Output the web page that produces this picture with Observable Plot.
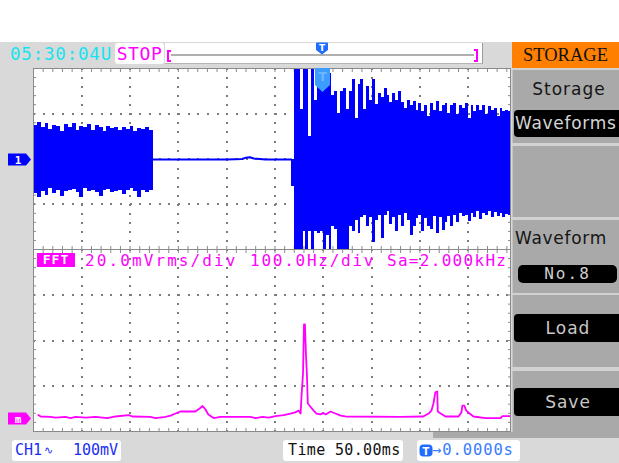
<!DOCTYPE html>
<html><head><meta charset="utf-8">
<script src="https://cdn.jsdelivr.net/npm/d3@7"></script>
<script src="https://cdn.jsdelivr.net/npm/@observablehq/plot@0.6"></script>
<style>
body{margin:0;background:#fff;}
#scr{position:relative;width:619px;height:463px;background:#d9d9d9;overflow:hidden;font-family:"DejaVu Sans Mono",monospace;}
#scr div,#scr span,#scr svg.ov{position:absolute;}
#scr #plots{left:0;top:0;width:619px;height:463px;}
#plots svg{position:absolute;left:0;max-width:none;}
.mono{font-family:"DejaVu Sans Mono",monospace;white-space:nowrap;}
.sans{font-family:"DejaVu Sans",sans-serif;white-space:nowrap;}
.btn{left:512px;width:107px;background:#a9a9a9;border-left:1px solid #c4c4c4;box-sizing:border-box;}
.blk{background:#000;border-radius:4px;}
</style></head>
<body>
<div id="scr">
  <div style="left:0;top:0;width:619px;height:42px;background:#fff;"></div>
  <div id="plots"></div>
  <div class="mono" style="left:10px;top:43px;font-size:17.5px;line-height:22px;letter-spacing:0.8px;color:#17e3f0;">05:30:04U</div>
  <div class="mono" style="left:115px;top:43px;width:49px;height:21px;background:#fff;border-radius:3px;color:#ff00ff;font-size:18px;line-height:21px;letter-spacing:0.6px;text-align:center;">STOP</div>
  <div style="left:165px;top:43px;width:317px;height:20px;background:#fff;border-right:1px solid #9c9c9c;border-bottom:1px solid #b4b4b4;"></div>
  <div style="left:167px;top:50px;width:2px;height:8px;border:2px solid #ff00ff;border-right:none;"></div>
  <div style="left:171px;top:54px;width:303px;height:2px;background:#b0b0b0;"></div>
  <div style="left:474px;top:49px;width:2px;height:9px;border:2px solid #ff00ff;border-left:none;"></div>
  <svg class="ov" style="left:316px;top:42px;" width="12" height="13"><path d="M1,0.5 h10 a1,1 0 0 1 1,1 v6.5 l-6,4.5 l-6,-4.5 v-6.5 a1,1 0 0 1 1,-1 z" fill="#1f6cff"/><text x="6" y="8.5" font-size="9" font-weight="bold" fill="#fff" text-anchor="middle" font-family="DejaVu Sans">T</text></svg>
  <div style="left:512px;top:42px;width:107px;height:26px;background:#ff8000;"></div>
  <div style="left:512px;top:42px;width:107px;height:26px;line-height:27px;text-align:center;font-family:'Liberation Serif',serif;font-size:18.5px;color:#111;">STORAGE</div>
  <div style="left:512px;top:68px;width:107px;height:370px;background:#d2d2d2;"></div>
  <div class="btn" style="top:70px;height:73px;"></div>
  <div class="btn" style="top:146px;height:71px;"></div>
  <div class="btn" style="top:220px;height:73px;"></div>
  <div class="btn" style="top:295px;height:72px;"></div>
  <div class="btn" style="top:371px;height:67px;"></div>
  <div style="left:433px;top:432px;width:186px;height:6px;background:#a9a9a9;"></div>
  <div class="sans" style="left:512px;top:78px;width:114px;text-align:center;font-size:17px;line-height:22px;letter-spacing:1px;color:#151515;">Storage</div>
  <div class="blk" style="left:514px;top:110px;width:112px;height:27px;"></div>
  <div class="sans" style="left:515px;top:110px;font-size:17px;line-height:27px;letter-spacing:0.7px;color:#d6d6d6;">Waveforms</div>
  <div class="sans" style="left:515px;top:227px;font-size:17px;line-height:22px;letter-spacing:0.7px;color:#151515;">Waveform</div>
  <div class="blk" style="left:518px;top:265px;width:99px;height:18px;border-radius:5px;"></div>
  <div class="mono" style="left:518px;top:265px;width:99px;text-align:center;font-size:16px;line-height:18px;letter-spacing:2px;color:#cfcfcf;">No.8</div>
  <div class="blk" style="left:514px;top:314px;width:112px;height:28px;"></div>
  <div class="sans" style="left:514px;top:314px;width:108px;text-align:center;font-size:17px;line-height:28px;letter-spacing:1px;color:#c8c8c8;">Load</div>
  <div class="blk" style="left:514px;top:388px;width:112px;height:28px;"></div>
  <div class="sans" style="left:514px;top:388px;width:108px;text-align:center;font-size:17px;line-height:28px;letter-spacing:1px;color:#c8c8c8;">Save</div>
  <svg class="ov" style="left:8px;top:153px;" width="24" height="13"><path d="M0,0.5 h18 l5,6 l-5,6 h-18 z" fill="#0000ff"/><text x="10" y="10.5" font-size="11" font-weight="bold" fill="#fff" text-anchor="middle" font-family="DejaVu Sans Mono">1</text></svg>
  <svg class="ov" style="left:8px;top:412px;" width="24" height="13"><path d="M0,0.5 h18 l5,6 l-5,6 h-18 z" fill="#ff00ff"/><text x="10" y="10.5" font-size="11" font-weight="bold" fill="#fff" text-anchor="middle" font-family="DejaVu Sans Mono">m</text></svg>
  <svg class="ov" style="left:315px;top:68px;" width="15" height="24"><path d="M0,0 h15 v17 l-7.5,7 l-7.5,-7 z" fill="#3d9cff"/><text x="7.5" y="13" font-size="12" font-weight="bold" fill="#6fb8ff" text-anchor="middle" font-family="DejaVu Sans">T</text></svg>
  <div class="mono" style="left:37px;top:253px;width:38px;height:14px;background:#ff00ff;color:#fff;font-size:13px;line-height:14px;font-weight:bold;text-align:center;letter-spacing:1px;">FFT</div>
  <div class="mono" style="left:85px;top:252px;font-size:16px;line-height:17px;letter-spacing:2.1px;color:#ff00ff;">20.0mVrms/div</div>
  <div class="mono" style="left:250px;top:252px;font-size:16px;line-height:17px;letter-spacing:1.75px;color:#ff00ff;">100.0Hz/div</div>
  <div class="mono" style="left:387px;top:252px;font-size:16px;line-height:17px;letter-spacing:1.3px;color:#ff00ff;">Sa=2.000kHz</div>
  <div style="left:12px;top:440px;width:109px;height:21px;background:#fff;border-radius:3px;"></div>
  <div class="mono" style="left:15px;top:441px;font-size:15px;line-height:19px;color:#1c2ef0;">CH1</div>
  <div class="mono" style="left:44px;top:441px;font-size:11px;line-height:19px;color:#1c2ef0;">∿</div>
  <div class="mono" style="left:73px;top:441px;font-size:15px;line-height:19px;color:#1c2ef0;">100mV</div>
  <div style="left:283px;top:440px;width:120px;height:21px;background:#fff;border-radius:3px;"></div>
  <div class="mono" style="left:288px;top:441px;font-size:15px;line-height:19px;letter-spacing:0.35px;color:#111;">Time 50.00ms</div>
  <div style="left:417px;top:440px;width:103px;height:21px;background:#fff;border-radius:3px;"></div>
  <svg class="ov" style="left:419px;top:444px;" width="15" height="13"><rect x="0.5" y="0.5" width="13" height="12" rx="4" fill="#1f6cff"/><text x="7" y="10.5" font-size="10" font-weight="bold" fill="#fff" text-anchor="middle" font-family="DejaVu Sans">T</text></svg>
  <div class="mono" style="left:432px;top:441px;font-size:15.5px;line-height:19px;letter-spacing:0.9px;color:#3a7cff;">→0.0000s</div>
</div>
<script>
// ---- CH1 time trace (time in ms relative to trigger, level in mV) ----
const burstTime = [-300,-296,-292,-288,-284,-280,-276,-272,-268,-264,-260,-256,-252,-248,-244,-240,-236,-232,-228,-224,-220,-216,-212,-208,-204,-200,-196,-192,-188,-184,-180,-176];
const burstHigh = [74,80,70,78,66,74,72,60,76,70,79,64,72,70,76,62,73,70,60,72,68,70,62,70,66,72,60,68,66,70,64,64];
const burstLow  = [-76,-86,-72,-80,-66,-76,-70,-82,-72,-70,-68,-74,-84,-66,-72,-70,-74,-82,-70,-68,-74,-72,-70,-78,-70,-66,-72,-84,-70,-74,-70,-70];

const quietTime  = [-176,-140,-100,-84,-80,-76,-72,-60,-33];
const quietLevel = [-1,-1,-1,0,3,4,1,-1,-1];

const ringTime = [-32.5,
  -30,-27,-24,-21,-18,-15,-12,-9,-6,-3,
  0,3,6,9,12,15,18,21,24,27,
  30,33,36,39,42,45,48,51,54,57,
  60,63,66,69,72,75,78,81,84,87,
  90,93,96,99,102,105,108,111,114,117,
  120,123,126,129,132,135,138,141,144,147,
  150,153,156,159,162,165,168,171,174,177,
  180,183,186,189,192,194];
const ringHigh = [-1,
  200,200,110,200,200,50,200,130,200,170,
  200,185,190,140,150,100,150,155,110,150,
  175,90,165,175,110,160,130,175,120,145,
  135,155,140,125,145,130,150,125,112,130,
  118,128,108,122,104,118,95,122,108,126,
  104,118,122,100,118,122,98,118,112,122,
  90,118,104,118,108,118,98,116,108,112,
  94,112,104,108,104,104];
const ringLow = [-60,
  -200,-200,-200,-160,-200,-160,-200,-160,-165,-160,
  -200,-170,-200,-150,-155,-200,-200,-200,-200,-150,
  -160,-135,-165,-130,-125,-150,-130,-185,-135,-125,
  -175,-125,-115,-145,-130,-160,-125,-150,-120,-135,
  -170,-150,-132,-125,-160,-132,-150,-155,-128,-165,
  -130,-158,-140,-128,-150,-124,-140,-120,-128,-124,
  -138,-120,-130,-116,-134,-120,-124,-116,-130,-118,
  -126,-120,-130,-122,-124,-124];

// ---- FFT trace (frequency in Hz, level in mVrms) ----
const fftFreq = [10,15,35,46,66,77,87,108,128,153,170,197,205,242,253,273,284,294,304,335,344,350,356,362,373,387,449,460,474,487,501,518,532,542,549,553,555,558,560,562,564,566,568,573,580,586,594,600,605,615,625,636,646,760,807,818,824,828,832,836,837,843,853,880,886,888,892,896,903,911,936,967,971,988];
const fftLevel = [1.9,1.2,1.0,0.7,1.0,0.5,1.0,0.7,1.0,0.5,1.2,1.8,1.2,1.0,0.5,1.0,1.6,2.5,3.4,3.4,4.7,5.8,4.3,2.1,0.5,1.0,1.0,0.5,1.0,0.7,1.4,1.8,2.5,3.0,3.8,2.5,10.4,20,41.7,41.7,29,20,6.9,5.6,3.8,2.5,2.1,2.7,2.1,3.4,2.5,1.6,1.2,1.0,1.2,2.5,3.8,6.9,11.8,12.2,3.4,2.5,1.2,1.2,3.0,6.0,6.0,3.8,2.5,1.2,0.5,0.5,1.4,1.4];

// ---- graticule ----
const timeGrid  = [-250,-200,-150,-100,-50,0,50,100,150];
const voltGrid  = [-100,0,100];
const freqGrid  = [100,200,300,400,500,600,700,800,900];
const levelGrid = [14.6,34.6,54.6];
const timeMinor  = d3.range(-300, 194, 10);
const voltMinor  = d3.range(-200, 201, 20);
const freqMinor  = d3.range(0, 988, 20);
const levelMinor = d3.range(-5.4, 74.7, 4);

const GRID = "#7c7c7c", EDGE = "#8a8a8a";
function graticule(xg, yg, xm, ym) {
  return [
    Plot.frame({fill: "white", stroke: "none"}),
    Plot.ruleX(xg, {x: d => d, stroke: GRID, strokeWidth: 2, strokeDasharray: "2,7.07", shapeRendering: "crispEdges"}),
    Plot.ruleY(yg, {y: d => d, stroke: GRID, strokeWidth: 2, strokeDasharray: "2,7.66", shapeRendering: "crispEdges"}),
    Plot.axisX(xm, {anchor: "top", tickSize: 3, dy: 3, fill: "none", label: null, stroke: EDGE}),
    Plot.axisX(xm, {anchor: "bottom", tickSize: 3, dy: -3, fill: "none", label: null, stroke: EDGE}),
    Plot.axisY(ym, {anchor: "left", tickSize: 3, dx: 3, fill: "none", label: null, stroke: EDGE}),
    Plot.axisY(ym, {anchor: "right", tickSize: 3, dx: -3, fill: "none", label: null, stroke: EDGE})
  ];
}

const host = document.getElementById("plots");
try {
  const upper = Plot.plot({
    width: 619, height: 197, marginTop: 8, marginBottom: 8, marginLeft: 33, marginRight: 109,
    x: {domain: [-300, 193.8]},
    y: {domain: [-200, 200]},
    style: {background: "transparent", overflow: "visible"},
    marks: [
      ...graticule(timeGrid, voltGrid, timeMinor, voltMinor),
      Plot.areaY(burstTime, {x: burstTime, y1: burstLow, y2: burstHigh, curve: "step-after", fill: "#0000ff", clip: true, shapeRendering: "crispEdges"}),
      Plot.line(quietTime, {x: quietTime, y: quietLevel, stroke: "#0000ff", strokeWidth: 2}),
      Plot.areaY(ringTime, {x: ringTime, y1: ringLow, y2: ringHigh, curve: "step-after", fill: "#0000ff", clip: true, shapeRendering: "crispEdges"}),
      Plot.frame({stroke: EDGE})
    ]
  });
  const lower = Plot.plot({
    width: 619, height: 198, marginTop: 8, marginBottom: 8, marginLeft: 33, marginRight: 109,
    x: {domain: [0, 987.6]},
    y: {domain: [-5.4, 74.6]},
    style: {background: "transparent", overflow: "visible"},
    marks: [
      ...graticule(freqGrid, levelGrid, freqMinor, levelMinor),
      Plot.line(fftFreq, {x: fftFreq, y: fftLevel, stroke: "#ff00ff", strokeWidth: 1.8, clip: true}),
      Plot.frame({stroke: EDGE})
    ]
  });
  upper.style.top = "60px";
  lower.style.top = "241px";
  host.appendChild(upper);
  host.appendChild(lower);
} catch (e) {
  host.textContent = "ERR " + e.message;
}
</script>
</body></html>
